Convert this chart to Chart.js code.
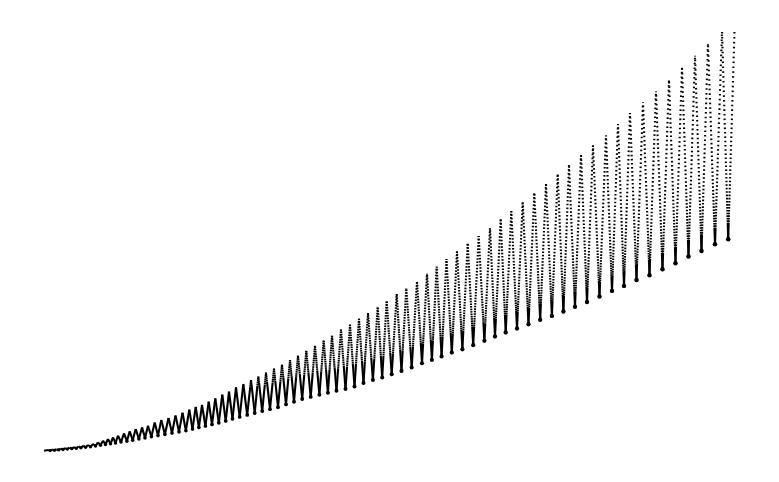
<!DOCTYPE html>
<html>
<head>
<meta charset="utf-8">
<script src="https://cdn.jsdelivr.net/npm/chart.js@4/dist/chart.umd.min.js"></script>
<style>
  html, body { margin: 0; padding: 0; background: #ffffff; }
  #wrap { width: 779px; height: 482px; }
</style>
</head>
<body>
<div id="wrap"><canvas id="c" width="779" height="482"></canvas></div>
<script>
// Values (arbitrary units): one peak and one trough per oscillation.
const startPoint = [0, 0.03];
const endPoint = [69.05, 42.00];

const peakX = [0.40,0.82,1.25,1.68,2.11,2.55,3.00,3.45,3.92,4.40,
  4.90,5.40,5.90,6.40,6.90,7.40,8.00,8.57,9.17,9.80,10.40,11.07,11.73,12.45,13.15,13.85,
  14.53,15.17,15.80,16.47,17.13,17.83,18.50,19.20,19.93,20.70,21.43,22.20,23.00,23.80,24.60,25.40,26.23,27.10,27.97,28.80,
  29.70,30.60,31.50,32.40,33.37,34.27,35.27,36.23,37.30,38.30,39.27,40.25,
  41.30,42.37,43.47,44.60,45.67,46.73,47.87,49.03,50.20,51.37,
  52.50,53.70,54.90,56.20,57.40,58.60,59.90,61.20,62.50,63.80,65.10,66.40,67.80];
const peakY = [0.10,0.14,0.18,0.23,0.28,0.33,0.39,0.45,0.53,0.60,
  0.70,0.86,1.03,1.20,1.36,1.53,1.76,1.96,2.20,2.36,2.53,2.86,3.10,3.30,3.55,3.83,
  4.13,4.41,4.62,4.93,5.26,5.63,5.93,6.36,6.70,7.10,7.46,7.83,8.23,8.63,9.10,9.53,10.03,10.53,11.03,11.53,
  12.13,12.63,13.23,13.80,14.43,15.03,15.70,16.30,17.00,17.73,18.43,19.20,
  19.96,20.73,21.50,22.30,23.16,24.00,24.86,25.76,26.70,27.66,
  28.60,29.60,30.56,31.56,32.70,33.80,34.86,35.96,37.16,38.33,39.53,40.73,42.00];
const troughX = [0.61,1.04,1.47,1.90,2.33,2.78,3.23,3.69,4.16,4.65,
  5.15,5.65,6.15,6.65,7.15,7.70,8.29,8.87,9.49,10.10,10.74,11.40,12.09,12.80,13.50,14.19,
  14.85,15.49,16.14,16.80,17.48,18.17,18.85,19.57,20.32,21.07,21.82,22.60,23.40,24.20,25.00,25.82,26.67,27.54,28.39,29.25,
  30.15,31.05,31.95,32.89,33.82,34.77,35.75,36.77,37.80,38.79,39.76,40.78,
  41.84,42.92,44.04,45.10,46.17,47.30,48.45,49.62,50.79,51.94,
  53.10,54.30,55.55,56.80,58.00,59.25,60.55,61.85,63.15,64.45,65.75,67.10,68.42];
const troughY = [0.04,0.07,0.11,0.15,0.19,0.23,0.27,0.32,0.37,0.43,
  0.50,0.57,0.65,0.72,0.80,0.89,0.98,1.08,1.20,1.31,1.42,1.54,1.66,1.79,1.91,2.03,
  2.19,2.34,2.50,2.66,2.82,3.01,3.22,3.41,3.61,3.80,3.99,4.18,4.38,4.66,4.93,5.20,5.41,5.62,5.82,6.02,
  6.19,6.46,6.79,7.09,7.35,7.67,8.01,8.35,8.78,9.11,9.45,9.84,
  10.17,10.58,11.02,11.45,11.85,12.25,12.67,13.11,13.51,13.95,
  14.42,14.90,15.45,16.01,16.51,17.11,17.58,18.18,18.78,19.45,20.01,20.68,21.18];

const xMin = 0, xMax = 69.05, yMin = 0, yMax = 42.1;

// Point table built from the arrays: start, then peak/trough pairs, then end.
const pts = [{x: startPoint[0], y: startPoint[1]}];
for (let i = 0; i < peakX.length; i++) {
  pts.push({x: peakX[i], y: peakY[i]});
  pts.push({x: troughX[i], y: troughY[i]});
}
pts.push({x: endPoint[0], y: endPoint[1]});
const troughPts = troughX.map((x, i) => ({x: x, y: troughY[i]}));

// Dotted-marker look: dots are dense near each trough and sparse toward each peak.
const DOT = 1.6;
function dashFromTrough(L, sMax) {
  const arr = [];
  let d = 0, on = 0;
  const minSolid = Math.min(0.08 * L, 15);
  while (d < L) {
    const u = Math.min(1, (d + 1) / L);
    const s = sMax * Math.pow(Math.max(0, 1 - (1 - u) * (1 - u)), 0.4);
    const g = s - DOT;
    if (g < 0.4 || d < minSolid) { on += 1; d += 1; continue; }
    on += DOT; d += DOT;
    arr.push(on, g); on = 0; d += g;
  }
  if (on > 0) arr.push(on, 0);
  const out = []; let acc = 0;
  for (let i = 0; i < arr.length; i++) {
    if (acc + arr[i] >= L) { out.push(L - acc); break; }
    out.push(arr[i]); acc += arr[i];
  }
  if (out.length % 2 === 1) out.push(0);
  return out;
}
function segDash(ctx) {
  const a = ctx.p0, b = ctx.p1;
  const dx = Math.abs(b.x - a.x), dy = Math.abs(b.y - a.y);
  const L = Math.hypot(dx, dy);
  if (L < 1) return [];
  const sMax = 1.45 + 0.0168 * dy;
  const fwd = dashFromTrough(L, sMax);
  if (b.y < a.y) return fwd;            // rising: starts at the trough
  const rev = fwd.slice().reverse();    // falling: ends at the trough
  const res = [0].concat(rev);
  if (res.length % 2 === 1) res.push(0);
  return res;
}

new Chart(document.getElementById('c'), {
  type: 'line',
  data: {
    datasets: [{
      data: pts,
      borderColor: '#000000',
      borderWidth: 2.1,
      borderCapStyle: 'butt',
      borderJoinStyle: 'round',
      pointRadius: 0,
      tension: 0,
      fill: false,
      clip: false,
      segment: { borderDash: segDash }
    }, {
      data: troughPts,
      showLine: false,
      pointRadius: (c) => 1.6 + 0.7 * (c.dataIndex / troughPts.length),
      pointBackgroundColor: '#000000',
      pointBorderWidth: 0,
      clip: false
    }]
  },
  options: {
    responsive: false,
    animation: false,
    layout: { padding: { left: 44, right: 44.5, top: 30, bottom: 31 } },
    plugins: { legend: { display: false }, tooltip: { enabled: false } },
    scales: {
      x: { type: 'linear', min: xMin, max: xMax, display: false },
      y: { type: 'linear', min: yMin, max: yMax, display: false }
    }
  }
});
</script>
</body>
</html>
